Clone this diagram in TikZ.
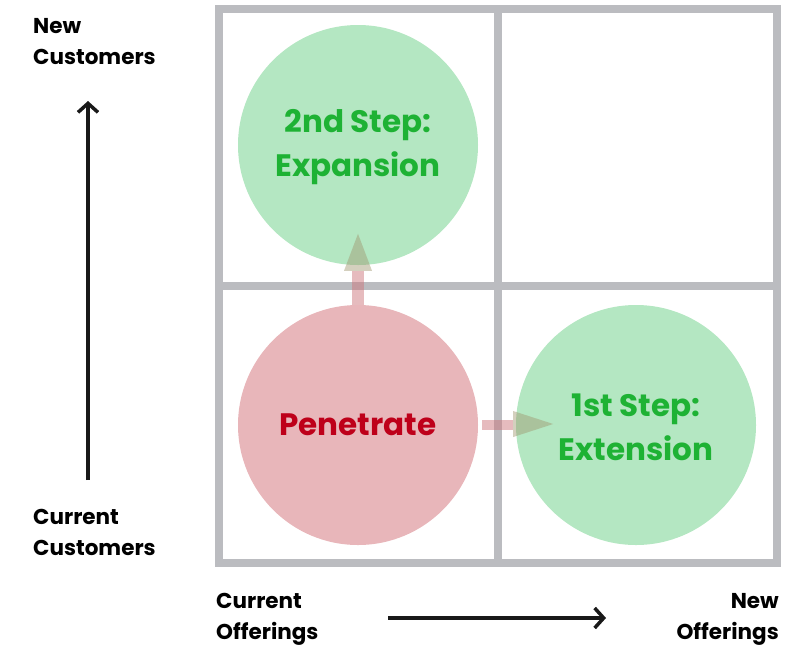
\documentclass[tikz,border=0pt]{standalone}
\usepackage{fontspec}
\setmainfont{Poppins}[BoldFont=* Bold]
\usetikzlibrary{arrows.meta,calc}
\definecolor{gridgrey}{RGB}{187,188,192}
\definecolor{greenfill}{RGB}{180,231,194}
\definecolor{greentext}{RGB}{30,178,52}
\definecolor{redfill}{RGB}{232,182,186}
\definecolor{redtext}{RGB}{190,0,26}
\definecolor{shaftcol}{RGB}{205,120,125}
\definecolor{headcol}{RGB}{160,150,110}
\tikzset{
  x=1pt, y=-1pt,
  gridline/.style={draw=gridgrey, line width=8pt},
  bubble/.style={circle, minimum size=240pt, inner sep=0pt, align=center,
    font=\bfseries\fontsize{31}{44}\selectfont},
  axislabel/.style={inner sep=0pt, font=\bfseries\fontsize{21.5}{31}\selectfont},
  axisarrow/.style={draw=black!90, line width=3.5pt, -{Straight Barb[length=9pt,width=20pt,line width=3.5pt]}},
  stepshaft/.style={fill=shaftcol, fill opacity=0.5},
  stephead/.style={fill=headcol, fill opacity=0.45},
}
\begin{document}
\begin{tikzpicture}
\useasboundingbox (0,0) rectangle (787,646);
% quadrant grid
\draw[gridline] (219,9) rectangle (777,563);
\draw[gridline] (498,9) -- (498,563);
\draw[gridline] (219,286) -- (777,286);
% strategy bubbles
\node[bubble, fill=greenfill] (expansion) at (358,145) {};
\node[bubble, fill=redfill] (penetrate) at (358,425) {};
\node[bubble, fill=greenfill] (extension) at (636,425) {};
\node[bubble, text=greentext] (expansiontext) at ($(expansion.center)+(0,2)$) {2nd Step:\\Expansion};
\node[bubble, text=redtext] (penetratetext) at (penetrate.center) {Penetrate};
\node[bubble, text=greentext] (extensiontext) at ($(extension.center)+(0,2)$) {1st Step:\\Extension};
% step arrows
\fill[stepshaft] (penetrate.north) ++(-6,0) rectangle ++(12,-34);
\fill[stephead] ($(penetrate.north)+(-14,-34)$) -- ($(penetrate.north)+(0,-71)$) -- ($(penetrate.north)+(14,-34)$) -- cycle;
\fill[stepshaft] (penetrate.east) ++(4,-5) rectangle ++(31,10);
\fill[stephead] ($(penetrate.east)+(35,-14)$) -- ($(penetrate.east)+(75,-1)$) -- ($(penetrate.east)+(35,12)$) -- cycle;
% axis labels
\node[axislabel, anchor=north west, align=left] (newcust) at (33,18) {New\\Customers};
\node[axislabel, anchor=north west, align=left] (curcust) at (33,509) {Current\\Customers};
\node[axislabel, anchor=north west, align=left] (curoff) at (216,593) {Current\\Offerings};
\node[axislabel, anchor=north east, align=right] (newoff) at (779,593) {New\\Offerings};
% axis arrows
\coordinate (ybot) at (88,480);
\coordinate (ytop) at (88,101);
\coordinate (xleft) at (388,618);
\coordinate (xright) at (606,618);
\draw[axisarrow] (ybot) -- (ytop);
\draw[axisarrow] (xleft) -- (xright);
\end{tikzpicture}
\end{document}
